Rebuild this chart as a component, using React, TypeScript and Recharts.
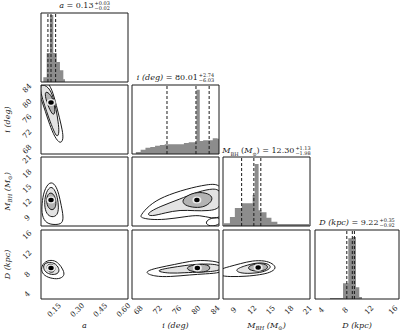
import React from "react";
import { Area, ComposedChart, Line, ReferenceLine, Scatter, XAxis, YAxis } from "recharts";

const FONT = "'DejaVu Serif', 'Liberation Serif', serif";
const INK = "#1a1a1a";
const HIST_FILL = "#8c8c8c";

// parameter ranges and tick labels
const aRange = [0.065, 0.63];
const iRange = [66.7, 84.8];
const mRange = [7.3, 21.4];
const dRange = [3.0, 17.0];
const aTicks = [0.15, 0.3, 0.45, 0.6];
const iTicks = [68, 72, 76, 80, 84];
const mTicks = [9, 12, 15, 18, 21];
const dTicks = [4, 8, 12, 16];

// 1D marginals: left bin edge + count (last entry closes the histogram)
const aHist = [
  { x: 0.08, n: 7 }, { x: 0.102, n: 42 }, { x: 0.123, n: 97 }, { x: 0.145, n: 42 },
  { x: 0.167, n: 29 }, { x: 0.188, n: 17 }, { x: 0.21, n: 4 }, { x: 0.221, n: 0 },
];
const iHist = [
  { x: 67.5, n: 3 }, { x: 68.5, n: 6 }, { x: 69.5, n: 9 }, { x: 70.5, n: 10 }, { x: 71.5, n: 12 },
  { x: 72.5, n: 13 }, { x: 73.5, n: 14 }, { x: 74.5, n: 14 }, { x: 75.5, n: 14 }, { x: 76.5, n: 14 },
  { x: 77.5, n: 16 }, { x: 78.5, n: 17 }, { x: 79.5, n: 17 }, { x: 80.1, n: 93 }, { x: 80.8, n: 19 },
  { x: 81.5, n: 20 }, { x: 82.5, n: 20 }, { x: 83.5, n: 23 }, { x: 84.5, n: 22 }, { x: 85.5, n: 0 },
];
const mHist = [
  { x: 7.46, n: 4 }, { x: 8.42, n: 13 }, { x: 9.22, n: 26 }, { x: 10.34, n: 33 }, { x: 12.11, n: 45 },
  { x: 12.43, n: 90 }, { x: 13.07, n: 23 }, { x: 13.55, n: 20 }, { x: 14.35, n: 12 }, { x: 15.15, n: 6 },
  { x: 16.11, n: 3 }, { x: 21.24, n: 0 },
];
const dHist = [
  { x: 5.5, n: 1.5 }, { x: 7.67, n: 23 }, { x: 8.55, n: 88 }, { x: 9.28, n: 90 },
  { x: 9.83, n: 17 }, { x: 10.38, n: 3 }, { x: 10.83, n: 0 },
];

// 16 / 50 / 84 percentiles
const aQuant = [0.11, 0.13, 0.16];
const iQuant = [73.98, 80.01, 82.75];
const mQuant = [10.32, 12.3, 13.43];
const dQuant = [8.3, 9.22, 9.57];

// title numbers: median, +err, -err
const aStat = ["0.13", "+0.03", "\u22120.02"];
const iStat = ["80.01", "+2.74", "\u22126.03"];
const mStat = ["12.30", "+1.13", "\u22121.98"];
const dStat = ["9.22", "+0.35", "\u22120.92"];

// 2D contours (outer, middle, inner) and density peak
const aiOuter = [
  { x: 0.033, y: 86.4 }, { x: 0.11, y: 85.9 }, { x: 0.145, y: 82.6 }, { x: 0.165, y: 79.4 },
  { x: 0.185, y: 76.2 }, { x: 0.204, y: 72.9 }, { x: 0.211, y: 70.5 }, { x: 0.19, y: 69.3 },
  { x: 0.154, y: 71.1 }, { x: 0.12, y: 74.5 }, { x: 0.094, y: 77.8 }, { x: 0.068, y: 81.0 },
  { x: 0.036, y: 84.3 },
];
const aiMid = [
  { x: 0.058, y: 85.3 }, { x: 0.117, y: 84.3 }, { x: 0.145, y: 81.6 }, { x: 0.164, y: 78.3 },
  { x: 0.177, y: 75.1 }, { x: 0.184, y: 72.2 }, { x: 0.17, y: 71.0 }, { x: 0.148, y: 72.7 },
  { x: 0.115, y: 76.2 }, { x: 0.089, y: 79.4 }, { x: 0.063, y: 82.6 },
];
const aiIn = [
  { x: 0.089, y: 83.4 }, { x: 0.131, y: 82.3 }, { x: 0.151, y: 79.9 }, { x: 0.158, y: 77.6 },
  { x: 0.143, y: 76.7 }, { x: 0.115, y: 78.9 }, { x: 0.095, y: 81.2 },
];
const aiPeak = [{ x: 0.13, y: 80.2 }];

const amOuter = [
  { x: 0.122, y: 16.46 }, { x: 0.159, y: 15.77 }, { x: 0.181, y: 13.88 }, { x: 0.196, y: 11.53 },
  { x: 0.211, y: 9.18 }, { x: 0.204, y: 7.77 }, { x: 0.159, y: 7.53 }, { x: 0.099, y: 7.77 },
  { x: 0.07, y: 9.41 }, { x: 0.07, y: 11.76 }, { x: 0.084, y: 14.58 },
];
const amMid = [
  { x: 0.122, y: 15.43 }, { x: 0.151, y: 14.98 }, { x: 0.173, y: 13.15 }, { x: 0.18, y: 11.08 },
  { x: 0.173, y: 9.49 }, { x: 0.136, y: 9.02 }, { x: 0.1, y: 9.71 }, { x: 0.086, y: 11.55 },
  { x: 0.093, y: 13.84 },
];
const amIn = [
  { x: 0.122, y: 14.23 }, { x: 0.151, y: 13.78 }, { x: 0.165, y: 12.21 }, { x: 0.158, y: 10.86 },
  { x: 0.13, y: 10.41 }, { x: 0.101, y: 11.53 }, { x: 0.101, y: 13.33 },
];
const amPeak = [{ x: 0.13, y: 12.6 }];

const imOuter = [
  { x: 68.4, y: 9.4 }, { x: 70.2, y: 11.5 }, { x: 73.1, y: 13.3 }, { x: 78.1, y: 14.9 },
  { x: 82.3, y: 15.8 }, { x: 85.4, y: 16.0 }, { x: 85.8, y: 12.0 }, { x: 85.4, y: 9.0 },
  { x: 83.3, y: 8.8 }, { x: 80.8, y: 9.6 }, { x: 77.7, y: 9.2 }, { x: 73.6, y: 8.6 },
  { x: 70.4, y: 8.6 }, { x: 68.6, y: 9.0 },
];
const imMid = [
  { x: 69.6, y: 9.8 }, { x: 72.5, y: 11.3 }, { x: 76.7, y: 12.8 }, { x: 79.8, y: 14.1 },
  { x: 82.9, y: 14.9 }, { x: 85.4, y: 14.9 }, { x: 85.4, y: 10.8 }, { x: 82.5, y: 10.4 },
  { x: 79.8, y: 10.4 }, { x: 76.7, y: 10.6 }, { x: 73.6, y: 10.0 }, { x: 70.6, y: 9.2 },
];
const imIn = [
  { x: 77.0, y: 12.6 }, { x: 78.6, y: 13.8 }, { x: 80.8, y: 14.3 }, { x: 83.1, y: 13.8 },
  { x: 83.6, y: 12.6 }, { x: 82.0, y: 11.2 }, { x: 79.8, y: 11.0 }, { x: 77.6, y: 11.5 },
];
const imBlob = [
  { x: 81.9, y: 8.12 }, { x: 83.1, y: 8.94 }, { x: 84.8, y: 9.14 }, { x: 85.4, y: 8.12 },
  { x: 84.2, y: 7.3 }, { x: 82.5, y: 7.3 },
];
const imPeak = [{ x: 80.2, y: 12.6 }];

const adOuter = [
  { x: 0.092, y: 10.72 }, { x: 0.144, y: 10.96 }, { x: 0.181, y: 10.26 }, { x: 0.211, y: 8.86 },
  { x: 0.219, y: 7.69 }, { x: 0.181, y: 6.99 }, { x: 0.122, y: 7.22 }, { x: 0.077, y: 7.92 },
  { x: 0.062, y: 9.32 },
];
const adMid = [
  { x: 0.1, y: 10.45 }, { x: 0.144, y: 10.45 }, { x: 0.173, y: 9.78 }, { x: 0.187, y: 8.64 },
  { x: 0.166, y: 7.95 }, { x: 0.122, y: 7.95 }, { x: 0.086, y: 8.64 }, { x: 0.078, y: 9.78 },
];
const adIn = [
  { x: 0.109, y: 10.08 }, { x: 0.144, y: 10.08 }, { x: 0.159, y: 9.29 }, { x: 0.151, y: 8.4 },
  { x: 0.116, y: 8.4 }, { x: 0.101, y: 9.29 },
];
const adPeak = [{ x: 0.13, y: 9.3 }];

const idOuter = [
  { x: 68.9, y: 8.5 }, { x: 72.3, y: 9.4 }, { x: 75.6, y: 10.0 }, { x: 78.8, y: 10.7 },
  { x: 81.5, y: 10.9 }, { x: 85.4, y: 10.5 }, { x: 85.8, y: 9.29 }, { x: 85.4, y: 8.3 },
  { x: 81.9, y: 8.1 }, { x: 78.8, y: 7.9 }, { x: 74.6, y: 7.5 }, { x: 71.3, y: 7.55 },
];
const idMid = [
  { x: 71.2, y: 8.7 }, { x: 74.6, y: 9.35 }, { x: 77.7, y: 9.8 }, { x: 80.8, y: 10.15 },
  { x: 85.4, y: 10.05 }, { x: 85.4, y: 8.65 }, { x: 80.8, y: 8.45 }, { x: 77.7, y: 8.35 },
  { x: 74.6, y: 8.15 },
];
const idIn = [
  { x: 78.0, y: 9.5 }, { x: 80.2, y: 10.1 }, { x: 82.5, y: 10.0 }, { x: 83.1, y: 9.29 },
  { x: 82.3, y: 8.5 }, { x: 80.0, y: 8.4 }, { x: 78.3, y: 8.85 },
];
const idPeak = [{ x: 80.3, y: 9.3 }];

const mdOuter = [
  { x: 6.5, y: 8.95 }, { x: 8.42, y: 9.6 }, { x: 10.02, y: 10.15 }, { x: 12.11, y: 10.8 },
  { x: 14.1, y: 10.8 }, { x: 15.35, y: 10.2 }, { x: 16.0, y: 9.29 }, { x: 15.0, y: 8.35 },
  { x: 13.23, y: 7.9 }, { x: 11.15, y: 7.6 }, { x: 8.42, y: 7.5 }, { x: 6.5, y: 7.75 },
];
const mdMid = [
  { x: 9.1, y: 8.89 }, { x: 10.7, y: 9.7 }, { x: 12.91, y: 10.45 }, { x: 14.65, y: 10.2 },
  { x: 15.2, y: 9.39 }, { x: 14.1, y: 8.55 }, { x: 12.43, y: 8.22 }, { x: 10.2, y: 8.15 },
];
const mdIn = [
  { x: 11.5, y: 9.75 }, { x: 12.91, y: 10.25 }, { x: 14.3, y: 10.1 }, { x: 14.7, y: 9.29 },
  { x: 13.8, y: 8.7 }, { x: 12.43, y: 8.6 }, { x: 11.3, y: 9.05 },
];
const mdPeak = [{ x: 13.0, y: 9.4 }];

// layout
const COL_X = [41, 132, 223, 315];
const COL_W = [87, 87, 87, 84];
const ROW_Y = [13, 85, 157, 230];
const ROW_H = 69;
const LEFT = 40;
const BOTTOM = 32;

type Param = { range: number[]; ticks: number[]; minor: number; fmt: (v: number) => string; name: React.ReactNode };

const A: Param = { range: aRange, ticks: aTicks, minor: 0.03, fmt: (v) => v.toFixed(2), name: <tspan fontStyle="italic">a</tspan> };
const I: Param = { range: iRange, ticks: iTicks, minor: 0.8, fmt: (v) => String(v), name: <tspan fontStyle="italic">i (deg)</tspan> };
const M: Param = {
  range: mRange, ticks: mTicks, minor: 0.6, fmt: (v) => String(v),
  name: (
    <>
      <tspan fontStyle="italic">M</tspan>
      <tspan fontStyle="italic" fontSize={5.5} dy={2}>BH</tspan>
      <tspan fontStyle="italic" dy={-2}> (M</tspan>
      <tspan fontSize={5.5} dy={2}>{"\u2299"}</tspan>
      <tspan fontStyle="italic" dy={-2}>)</tspan>
    </>
  ),
};
const D: Param = { range: dRange, ticks: dTicks, minor: 0.8, fmt: (v) => String(v), name: <tspan fontStyle="italic">D (kpc)</tspan> };

function minorTicks(p: Param) {
  const out: number[] = [];
  for (let v = Math.ceil(p.range[0] / p.minor) * p.minor; v <= p.range[1]; v += p.minor) out.push(+v.toFixed(4));
  return out;
}

const frame = { stroke: INK, strokeWidth: 1 };

function XTick(props: any) {
  const { x, y, payload, fmt } = props;
  return (
    <text transform={`translate(${Number(x)},${Number(y) + 11}) rotate(-45)`} textAnchor="middle" dy="0.35em" fontSize={7.3} fontFamily={FONT} fill={INK}>
      {fmt(payload.value)}
    </text>
  );
}

function YTick(props: any) {
  const { x, y, payload, fmt } = props;
  return (
    <text transform={`translate(${Number(x) - 14},${Number(y)}) rotate(-45)`} textAnchor="middle" dy="0.35em" fontSize={7.3} fontFamily={FONT} fill={INK}>
      {fmt(payload.value)}
    </text>
  );
}

function Panel({ row, col, xp, yp, children }: { row: number; col: number; xp: Param; yp?: Param; children: React.ReactNode }) {
  const showX = row === 3;
  const showY = col === 0 && !!yp;
  const padL = showY ? LEFT : 0;
  const padB = showX ? BOTTOM : 0;
  const w = COL_W[col];
  const yDomain = yp ? yp.range : [0, 100];
  return (
    <div style={{ position: "absolute", left: COL_X[col] - 1 - padL, top: ROW_Y[row] - 1 }}>
      <ComposedChart width={w + 2 + padL} height={ROW_H + 2 + padB} margin={{ top: 1, right: 1, bottom: 1, left: 1 }}>
        {showX ? (
          <XAxis
            xAxisId={0} type="number" dataKey="x" domain={xp.range} allowDataOverflow ticks={xp.ticks} interval={0}
            height={BOTTOM} axisLine={frame} tickLine={false} tickSize={0} tickMargin={0}
            tick={<XTick fmt={xp.fmt} />}
            label={(p: any) => (
              <text x={p.viewBox.x + p.viewBox.width / 2} y={p.viewBox.y + 29} textAnchor="middle" fontSize={8} fontFamily={FONT} fill={INK}>
                {xp.name}
              </text>
            )}
          />
        ) : (
          <XAxis xAxisId={0} type="number" dataKey="x" domain={xp.range} allowDataOverflow mirror ticks={xp.ticks} interval={0} tick={false} tickSize={3} axisLine={frame} tickLine={frame} />
        )}
        {showX && (
          <XAxis xAxisId="in" type="number" domain={xp.range} allowDataOverflow mirror ticks={xp.ticks} interval={0} tick={false} tickSize={3} axisLine={false} tickLine={frame} />
        )}
        <XAxis xAxisId="top" orientation="top" type="number" domain={xp.range} allowDataOverflow mirror ticks={minorTicks(xp)} interval={0} tick={false} tickSize={2} axisLine={frame} tickLine={frame} />
        <YAxis yAxisId={0} type="number" dataKey="y" domain={yDomain} allowDataOverflow mirror ticks={yp ? yp.ticks : [0]} interval={0} tick={false} tickSize={3} axisLine={frame} tickLine={yp ? frame : false} />
        <YAxis yAxisId="right" orientation="right" type="number" domain={yDomain} allowDataOverflow mirror ticks={yp ? minorTicks(yp) : [0]} interval={0} tick={false} tickSize={2} axisLine={frame} tickLine={yp ? frame : false} />
        {showY && yp && (
          <YAxis
            yAxisId="lab" type="number" domain={yp.range} allowDataOverflow ticks={yp.ticks} interval={0}
            width={LEFT} axisLine={false} tickLine={false} tickSize={0} tickMargin={0}
            tick={<YTick fmt={yp.fmt} />}
            label={(p: any) => (
              <text transform={`translate(${p.viewBox.x + 9},${p.viewBox.y + p.viewBox.height / 2}) rotate(-90)`} textAnchor="middle" fontSize={8} fontFamily={FONT} fill={INK}>
                {yp.name}
              </text>
            )}
          />
        )}
        {children}
      </ComposedChart>
    </div>
  );
}

function hist(data: { x: number; n: number }[], quant: number[]) {
  return [
    <Area key="h" data={data} dataKey="n" type="stepAfter" fill={HIST_FILL} fillOpacity={1} stroke="none" isAnimationActive={false} />,
    ...quant.map((q) => (
      <ReferenceLine key={`q${q}`} x={q} stroke={INK} strokeWidth={1} strokeDasharray="3 2" />
    )),
  ];
}

const PeakDot = (p: any) => (
  <g>
    <ellipse cx={p.cx} cy={p.cy} rx={4.5} ry={3.5} fill="#ececec" />
    <ellipse cx={p.cx} cy={p.cy} rx={2.7} ry={2.2} fill="#000" />
  </g>
);

function contours(outer: any[], mid: any[], inner: any[], peak: any[], extra?: any[]) {
  const line = { dataKey: "y", type: "basisClosed" as const, stroke: INK, strokeWidth: 1, dot: false, activeDot: false, isAnimationActive: false };
  return [
    <Line key="o" data={outer} {...line} />,
    ...(extra ? [<Line key="e" data={extra} {...line} />] : []),
    <Line key="m" data={mid} className="c-mid" {...line} />,
    <Line key="i" data={inner} className="c-in" {...line} />,
    <Scatter key="p" data={peak} shape={PeakDot} isAnimationActive={false} />,
  ];
}

function Stat({ col, top, stat, children }: { col: number; top: number; stat: string[]; children: React.ReactNode }) {
  return (
    <div
      style={{
        position: "absolute", left: COL_X[col] + COL_W[col] / 2, top, transform: "translateX(-50%)",
        whiteSpace: "nowrap", fontFamily: FONT, fontSize: 8, lineHeight: "10px", color: INK,
      }}
    >
      {children} = {stat[0]}
      <span style={{ display: "inline-flex", flexDirection: "column", fontSize: 5, lineHeight: "5px", verticalAlign: "middle", marginLeft: 1 }}>
        <span>{stat[1]}</span>
        <span>{stat[2]}</span>
      </span>
    </div>
  );
}

const css = `
.recharts-wrapper, .recharts-surface { overflow: visible !important; }
.c-mid .recharts-line-curve { fill: #e3e3e3; }
.c-in .recharts-line-curve { fill: #b3b3b3; }
`;

export default function App() {
  return (
    <div style={{ position: "absolute", left: 0, top: 0, width: 400, height: 333, background: "#fff", overflow: "hidden" }}>
      <style>{css}</style>

      <Panel row={0} col={0} xp={A}>{hist(aHist, aQuant)}</Panel>
      <Panel row={1} col={1} xp={I}>{hist(iHist, iQuant)}</Panel>
      <Panel row={2} col={2} xp={M}>{hist(mHist, mQuant)}</Panel>
      <Panel row={3} col={3} xp={D}>{hist(dHist, dQuant)}</Panel>

      <Panel row={1} col={0} xp={A} yp={I}>{contours(aiOuter, aiMid, aiIn, aiPeak)}</Panel>
      <Panel row={2} col={0} xp={A} yp={M}>{contours(amOuter, amMid, amIn, amPeak)}</Panel>
      <Panel row={2} col={1} xp={I} yp={M}>{contours(imOuter, imMid, imIn, imPeak, imBlob)}</Panel>
      <Panel row={3} col={0} xp={A} yp={D}>{contours(adOuter, adMid, adIn, adPeak)}</Panel>
      <Panel row={3} col={1} xp={I} yp={D}>{contours(idOuter, idMid, idIn, idPeak)}</Panel>
      <Panel row={3} col={2} xp={M} yp={D}>{contours(mdOuter, mdMid, mdIn, mdPeak)}</Panel>

      <Stat col={0} top={1} stat={aStat}><i>a</i></Stat>
      <Stat col={1} top={73} stat={iStat}><i>i (deg)</i></Stat>
      <Stat col={2} top={146} stat={mStat}>
        <i>M</i><sub style={{ fontSize: 5 }}>BH</sub> (<i>M</i><sub style={{ fontSize: 5 }}>{"\u2299"}</sub>)
      </Stat>
      <Stat col={3} top={218} stat={dStat}><i>D (kpc)</i></Stat>
    </div>
  );
}
